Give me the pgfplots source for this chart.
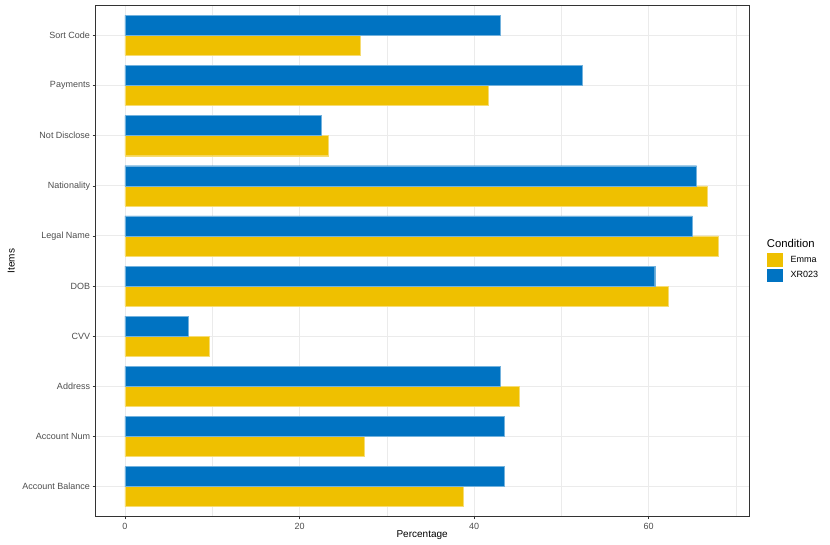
\documentclass[border=0pt]{standalone}
\usepackage{pgfplots}
\pgfplotsset{compat=1.18}
\usepackage{fontspec}
\setmainfont{Liberation Sans}
\definecolor{jcoBlue}{HTML}{0073C2}
\definecolor{jcoYellow}{HTML}{EFC000}
\definecolor{gridc}{HTML}{EBEBEB}
\definecolor{grey20}{HTML}{333333}
\definecolor{grey30}{HTML}{4D4D4D}
\begin{document}
\begin{tikzpicture}
\begin{axis}[
  at={(0pt,0pt)}, anchor=south west,
  scale only axis, width=653.7pt, height=511.4pt,
  xmin=-3.4, xmax=71.5, ymin=0.4, ymax=10.6,
  clip=false,
  xtick={0,20,40,60}, minor xtick={10,30,50,70},
  ytick={1,...,10},
  yticklabels={Account Balance,Account Num,Address,CVV,DOB,Legal Name,Nationality,Not Disclose,Payments,Sort Code},
  /pgf/number format/assume math mode=true,
  tick align=outside, major tick length=2.75pt,
  tick style={grey20, line width=0.5pt},
  minor tick length=0pt,
  xtick pos=bottom, ytick pos=left,
  grid=both,
  major grid style={gridc, line width=0.9pt},
  minor grid style={gridc, line width=0.45pt},
  axis line style={grey20, line width=0.7pt},
  ticklabel style={font=\fontsize{9}{10}\selectfont, text=grey30},
  yticklabel style={xshift=1pt},
  xlabel={Percentage}, ylabel={Items},
  label style={font=\fontsize{11.3}{12}\selectfont, text=black},
  every axis x label/.style={at={(axis description cs:0.5,0)}, anchor=center, yshift=-18.3pt},
  every axis y label/.style={at={(axis description cs:0,0.5)}, xshift=-84pt, anchor=center, rotate=90},
  legend style={at={(axis description cs:1.027,0.515)}, anchor=north west, draw=none, fill=none,
    inner sep=0pt, outer sep=0pt, row sep=2pt, font=\fontsize{9}{10}\selectfont,
    nodes={inner sep=0pt, anchor=west},
    /tikz/every odd column/.append style={column sep=7.4pt}},
  legend cell align=left,
  legend image code/.code={\fill[#1,draw=none] (0pt,-6.7pt) rectangle (16.6pt,6.7pt);},
]
\addplot[xbar, bar width=0.4, bar shift=-0.2, fill=jcoYellow, draw=jcoYellow!55!white, line width=0.4pt]
 coordinates {(38.8,1) (27.4,2) (45.2,3) (9.6,4) (62.2,5) (68.0,6) (66.7,7) (23.3,8) (41.6,9) (27.0,10)};
\addlegendentry{Emma}
\addplot[xbar, bar width=0.4, bar shift=0.2, fill=jcoBlue, draw=jcoBlue!55!white, line width=0.4pt]
 coordinates {(43.5,1) (43.5,2) (43.0,3) (7.3,4) (60.7,5) (65.0,6) (65.5,7) (22.5,8) (52.4,9) (43.0,10)};
\addlegendentry{XR023}
\node[anchor=west, inner sep=0pt, font=\fontsize{11.3}{12}\selectfont] at (axis description cs:1.027,0.5352) {Condition};
\end{axis}
\pgfresetboundingbox
\useasboundingbox (-95.3pt,-28.3pt) rectangle (734.7pt,516.7pt);
\end{tikzpicture}
\end{document}
